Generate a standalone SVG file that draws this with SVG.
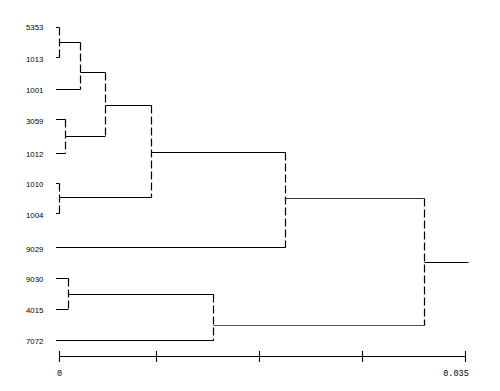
<svg xmlns="http://www.w3.org/2000/svg" width="500" height="391" viewBox="0 0 500 391">
<style>
.lbl{font-family:"Liberation Sans",Arial,sans-serif;font-size:7.8px;fill:#000}
.ax{font-family:"Liberation Mono","Courier New",monospace;font-size:8.5px;fill:#000}
.h{stroke:#000;stroke-width:1.1;fill:none}
.v{stroke:#000;stroke-width:1.2;fill:none;stroke-dasharray:8 3}
</style>
<rect width="500" height="391" fill="#fff"/>
<g id="leaf-5353"><text class="lbl" x="26" y="30.3">5353</text></g>
<g id="leaf-1013"><text class="lbl" x="26" y="61.8">1013</text></g>
<g id="leaf-1001"><text class="lbl" x="26" y="93.3">1001</text></g>
<g id="leaf-3059"><text class="lbl" x="26" y="124.3">3059</text></g>
<g id="leaf-1012"><text class="lbl" x="26" y="156.8">1012</text></g>
<g id="leaf-1010"><text class="lbl" x="26" y="186.8">1010</text></g>
<g id="leaf-1004"><text class="lbl" x="26" y="218.3">1004</text></g>
<g id="leaf-9029"><text class="lbl" x="26" y="251.8">9029</text></g>
<g id="leaf-9030"><text class="lbl" x="26" y="281.8">9030</text></g>
<g id="leaf-4015"><text class="lbl" x="26" y="313.3">4015</text></g>
<g id="leaf-7072"><text class="lbl" x="26" y="344.3">7072</text></g>
<g id="connectors">
<path class="h" d="M56 27.5H59.5M56 57.5H59.5M59.5 42.5H80.5M56 89.5H80.5M80.5 72.5H105.5M56 119.5H65.5M56 153.5H65.5M65.5 136.5H105.5M105.5 105.5H151.5M56 183.5H59.5M56 213.5H59.5M59.5 197.5H151.5M151.5 152.5H285.5M56 247.5H285.5M56 278.5H68.5M56 309.5H68.5M68.5 294.5H213.5M56 340.5H213.5M424.5 262.5H468.5"/>
<path class="h" style="stroke:#333" d="M285.5 198.5H424.5"/>
<path class="h" style="stroke:#555" d="M213.5 325.5H424.5"/>
<path class="v" d="M59.5 27.5V57.5M80.5 42.5V89.5M65.5 119.5V153.5M105.5 72.5V136.5M59.5 183.5V213.5M151.5 105.5V197.5M285.5 152.5V247.5M68.5 278.5V309.5M213.5 294.5V340.5M424.5 198.5V325.5"/>
</g>
<g id="axis">
<path class="h" d="M59.5 356.5H465.5M59.5 351V362M156.5 351V362M259.5 351V362M362.5 351V362M465.5 351V362"/>
<text class="ax" x="59.5" y="376" text-anchor="middle">0</text>
<text class="ax" x="456" y="376" text-anchor="middle">0.035</text>
</g>
</svg>
